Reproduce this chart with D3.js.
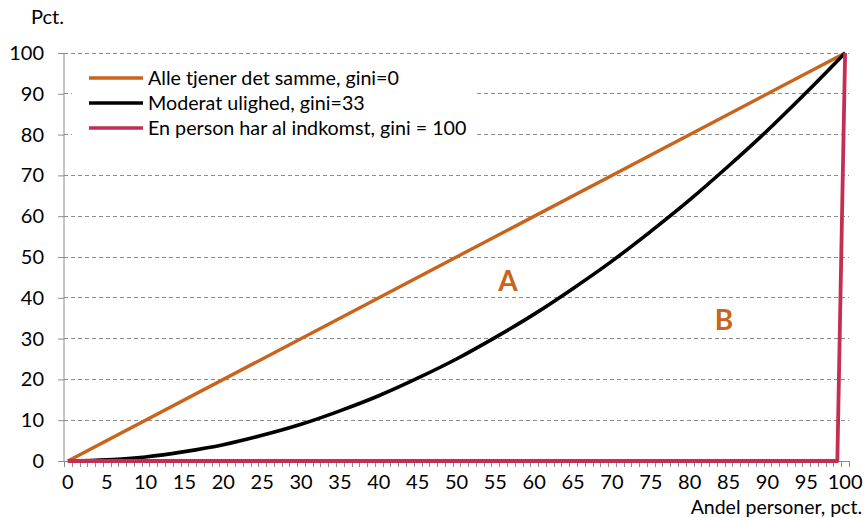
<!DOCTYPE html>
<html><head><meta charset="utf-8">
<script src="https://cdn.jsdelivr.net/npm/d3@7"></script>
<style>body{margin:0;background:#fff}svg{display:block;font-family:Lato,"Open Sans",sans-serif}</style>
</head><body><svg id="c" width="867" height="518"></svg>
<script>
// Data
const xCategories = d3.range(0, 101); // Andel personer 0..100
const xTickLabels = [0,5,10,15,20,25,30,35,40,45,50,55,60,65,70,75,80,85,90,95,100];
const yTickLabels = [0,10,20,30,40,50,60,70,80,90,100];
const equalX = [0, 100];
const equalY = [0, 100];
const moderatX = [0,5,10,15,20,25,30,35,40,45,50,55,60,65,70,75,80,85,90,95,100];
const moderatY = [0,0.3,1,2.3,4,6.3,9,12.3,16,20.3,25,30.3,36,42.3,49,56.3,64,72.3,81,90.3,100];
const enPersonX = [0, 99, 100];
const enPersonY = [0, 0, 100];
const seriesNames = ["Alle tjener det samme, gini=0", "Moderat ulighed, gini=33", "En person har al indkomst, gini = 100"];
const seriesColors = ["#C8641C", "#000000", "#C42E55"];

const svg = d3.select("#c");
const x = d3.scaleLinear().domain([-0.5, 100.5]).range([64, 849]);
const y = d3.scaleLinear().domain([0, 100]).range([461, 53]);

// gridlines
svg.append("g").selectAll("line").data(yTickLabels.filter(v => v > 0)).join("line")
  .attr("x1", 64).attr("x2", 849).attr("y1", d => y(d)).attr("y2", d => y(d))
  .attr("stroke", "#8c8c8c").attr("stroke-width", 1).attr("stroke-dasharray", "4,3")
  .attr("shape-rendering", "crispEdges");

// y axis
const yAxis = svg.append("g").attr("transform", "translate(64,0)")
  .call(d3.axisLeft(y).tickValues(yTickLabels).tickSize(6).tickPadding(14));
yAxis.select(".domain").attr("stroke", "#8c8c8c").attr("d", `M0,${y(100)}V${y(0)}`);
yAxis.selectAll(".tick line").attr("stroke", "#8c8c8c");
yAxis.selectAll("text").attr("font-size", 20).attr("fill", "#000").attr("font-family", "Lato");

// x axis
const xAxisG = svg.append("g").attr("transform", `translate(0,${y(0)})`);
xAxisG.append("line").attr("x1", 64).attr("x2", 849).attr("y1", 0).attr("y2", 0)
  .attr("stroke", "#8c8c8c").attr("shape-rendering", "crispEdges");
const boundaries = d3.range(-0.5, 101, 1);
xAxisG.selectAll("line.t").data(boundaries).join("line").attr("class", "t")
  .attr("x1", d => Math.round(x(d)) + 0.5).attr("x2", d => Math.round(x(d)) + 0.5)
  .attr("y1", 0).attr("y2", 6).attr("stroke", "#8c8c8c");
xAxisG.selectAll("text").data(xTickLabels).join("text")
  .attr("x", d => x(d)).attr("y", 28).attr("text-anchor", "middle")
  .attr("font-size", 20).attr("font-family", "Lato").text(d => d);

// lines
const line = d3.line().x(d => x(d[0])).y(d => y(d[1]));
svg.append("path").datum(d3.zip(equalX, equalY)).attr("d", line)
  .attr("fill", "none").attr("stroke", seriesColors[0]).attr("stroke-width", 3.4);
svg.append("path").datum(d3.zip(moderatX, moderatY)).attr("d", line.curve(d3.curveMonotoneX))
  .attr("fill", "none").attr("stroke", seriesColors[1]).attr("stroke-width", 3.6);
svg.append("path").datum(d3.zip(enPersonX, enPersonY)).attr("d", d3.line().x(d => x(d[0])).y(d => y(d[1])))
  .attr("fill", "none").attr("stroke", seriesColors[2]).attr("stroke-width", 3.8).attr("stroke-linejoin", "round");

// legend
const lg = svg.append("g");
lg.append("rect").attr("x", 72).attr("y", 63).attr("width", 403).attr("height", 78).attr("fill", "#fff");
seriesNames.forEach((n, i) => {
  const yy = 78 + i * 25;
  lg.append("line").attr("x1", 89).attr("x2", 143).attr("y1", yy).attr("y2", yy)
    .attr("stroke", seriesColors[i]).attr("stroke-width", 3.6);
  lg.append("text").attr("x", 148).attr("y", yy + 7).attr("font-size", 19.7).attr("font-family", "Lato").text(n);
});

// labels
svg.append("text").attr("x", 31).attr("y", 24).attr("font-size", 20).text("Pct.");
svg.append("text").attr("x", 862).attr("y", 514).attr("text-anchor", "end").attr("font-size", 19.5).text("Andel personer, pct.");
svg.append("text").attr("x", 508).attr("y", 291).attr("text-anchor", "middle").attr("font-size", 28)
  .attr("font-weight", "bold").attr("fill", seriesColors[0]).text("A");
svg.append("text").attr("x", 724).attr("y", 330).attr("text-anchor", "middle").attr("font-size", 28)
  .attr("font-weight", "bold").attr("fill", seriesColors[0]).text("B");
</script></body></html>
